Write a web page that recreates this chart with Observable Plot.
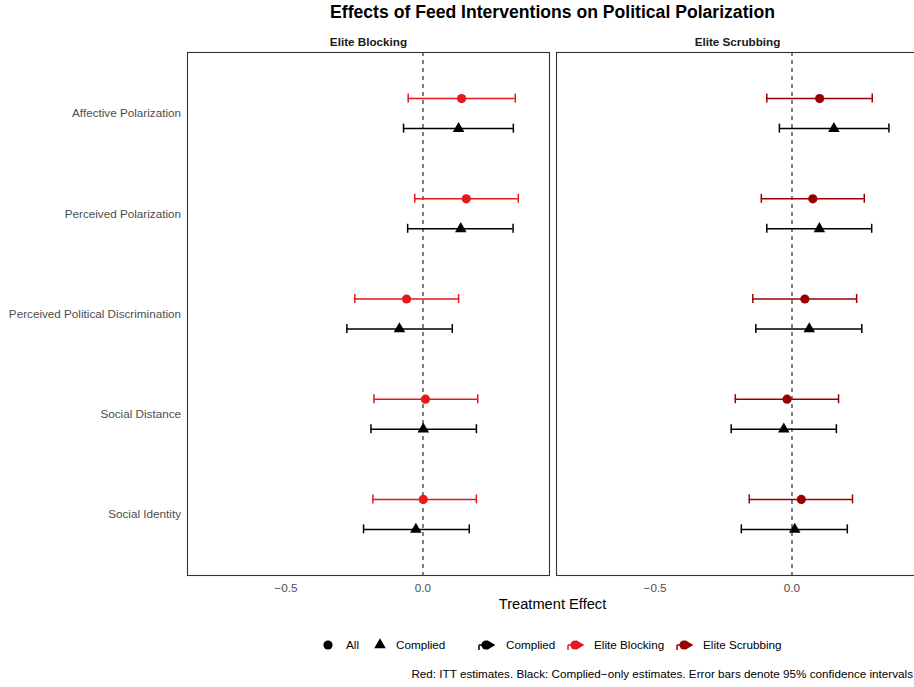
<!DOCTYPE html>
<html>
<head>
<meta charset="utf-8">
<script src="https://cdn.jsdelivr.net/npm/d3@7"></script>
<script src="https://cdn.jsdelivr.net/npm/@observablehq/plot@0.6"></script>
<style>
html, body { margin: 0; padding: 0; background: #fff; overflow: hidden; }
#wrap { position: relative; width: 914px; height: 687px; overflow: hidden; background: #fff;
  font-family: "Liberation Sans", Arial, Helvetica, sans-serif; color: #000; }
#title { position: absolute; left: 187px; width: 731px; top: 1px; text-align: center;
  font-weight: bold; font-size: 17.6px; line-height: 22px; white-space: nowrap; }
#chart { position: absolute; left: 0; top: 24px; width: 918px; }
#chart svg { max-width: none !important; }
#xlabel { position: absolute; left: 187px; width: 731px; top: 595px; text-align: center;
  font-size: 14.67px; line-height: 18px; }
#legend { position: absolute; left: 0; top: 636px; width: 914px; height: 18px; font-size: 11.7px; }
#legend .k { position: absolute; top: 0; width: 18px; height: 18px; }
#legend .t { position: absolute; top: 0; line-height: 18px; white-space: nowrap; }
#caption { position: absolute; right: 1px; top: 666px; font-size: 11.7px; line-height: 16px; white-space: nowrap; }
</style>
</head>
<body>
<div id="wrap">
  <div id="title"></div>
  <div id="chart"></div>
  <div id="xlabel"></div>
  <div id="legend"></div>
  <div id="caption"></div>
</div>
<script>
// ---------- data ----------
const titleText = "Effects of Feed Interventions on Political Polarization";
const xLabelText = "Treatment Effect";
const captionText = "Red: ITT estimates. Black: Complied\u2212only estimates. Error bars denote 95% confidence intervals";
const outcomes = ["Affective Polarization", "Perceived Polarization", "Perceived Political Discrimination", "Social Distance", "Social Identity"];
const interventions = ["Elite Blocking", "Elite Scrubbing"];
const samples = ["All", "Complied"];
const colorKeys = ["Complied", "Elite Blocking", "Elite Scrubbing"];
const colorRange = ["#000000", "#e41a1c", "#990000"];
const xTicks = [-0.5, 0.0];
const refLine = [0];

// Elite Blocking, ITT (All)
const blockAllEst = [0.141, 0.158, -0.060, 0.009, 0.001];
const blockAllLo  = [-0.054, -0.030, -0.249, -0.179, -0.183];
const blockAllHi  = [0.337, 0.348, 0.130, 0.200, 0.195];
// Elite Blocking, Complied
const blockCompEst = [0.130, 0.138, -0.086, 0.001, -0.026];
const blockCompLo  = [-0.071, -0.056, -0.278, -0.190, -0.217];
const blockCompHi  = [0.330, 0.329, 0.107, 0.195, 0.169];
// Elite Scrubbing, ITT (All)
const scrubAllEst = [0.101, 0.076, 0.047, -0.018, 0.034];
const scrubAllLo  = [-0.092, -0.112, -0.143, -0.207, -0.156];
const scrubAllHi  = [0.293, 0.264, 0.236, 0.170, 0.221];
// Elite Scrubbing, Complied
const scrubCompEst = [0.153, 0.100, 0.063, -0.030, 0.010];
const scrubCompLo  = [-0.046, -0.092, -0.132, -0.222, -0.185];
const scrubCompHi  = [0.354, 0.291, 0.255, 0.162, 0.202];

// ---------- table ----------
const series = [
  {intervention: "Elite Blocking", sample: "All", est: blockAllEst, lo: blockAllLo, hi: blockAllHi},
  {intervention: "Elite Blocking", sample: "Complied", est: blockCompEst, lo: blockCompLo, hi: blockCompHi},
  {intervention: "Elite Scrubbing", sample: "All", est: scrubAllEst, lo: scrubAllLo, hi: scrubAllHi},
  {intervention: "Elite Scrubbing", sample: "Complied", est: scrubCompEst, lo: scrubCompLo, hi: scrubCompHi}
];
const rows = [];
for (const s of series) {
  outcomes.forEach((o, i) => rows.push({
    intervention: s.intervention, sample: s.sample, outcome: o,
    est: s.est[i], lo: s.lo[i], hi: s.hi[i],
    key: s.sample === "Complied" ? "Complied" : s.intervention
  }));
}

const font = '"Liberation Sans", Arial, Helvetica, sans-serif';
const dodge = {All: -15, Complied: 15};
const marks = [Plot.ruleX(refLine, {stroke: "#000", strokeWidth: 1, strokeDasharray: "4,4"})];
for (const s of samples) {
  const d = rows.filter(r => r.sample === s);
  const common = {fx: "intervention", y: "outcome", stroke: "key", strokeWidth: 1.5, dy: dodge[s]};
  marks.push(Plot.ruleY(d, {...common, x1: "lo", x2: "hi"}));
  marks.push(Plot.tickX(d, {...common, x: "lo"}));
  marks.push(Plot.tickX(d, {...common, x: "hi"}));
  marks.push(Plot.dot(d, {fx: "intervention", y: "outcome", x: "est", fill: "key", stroke: "none",
    symbol: "sample", r: s === "All" ? 4.6 : 4.3, dy: dodge[s]}));
}
marks.push(Plot.text(interventions, {fx: d => d, text: d => d, frameAnchor: "top", lineAnchor: "middle", dy: -10.5,
  fontWeight: "bold", fontSize: 11.7, fill: "#1a1a1a"}));
marks.push(Plot.axisY({tickSize: 0, tickPadding: 6.5, fontSize: 11.7, color: "#4d4d4d", label: null}));
marks.push(Plot.axisX({ticks: xTicks, tickFormat: d3.format(".1f"), tickSize: 0, tickPadding: 8,
  fontSize: 11.7, color: "#4d4d4d", label: null}));
marks.push(Plot.frame({stroke: "#333", strokeWidth: 1.1}));

const chart = Plot.plot({
  width: 918, height: 571,
  marginLeft: 187, marginRight: 0, marginTop: 28, marginBottom: 20,
  x: {domain: [-0.86, 0.462]},
  y: {type: "band", domain: outcomes, paddingInner: 0.9102, paddingOuter: 0.565, round: false},
  fx: {domain: interventions, paddingInner: 0.019, paddingOuter: 0, round: false, axis: null},
  color: {domain: colorKeys, range: colorRange},
  symbol: {domain: samples, range: ["circle", "triangle"]},
  style: {fontFamily: font, fontSize: "11.7px", background: "white", overflow: "visible", maxWidth: "none"},
  marks
});
document.getElementById("chart").appendChild(chart);
document.getElementById("title").textContent = titleText;
document.getElementById("xlabel").textContent = xLabelText;
document.getElementById("caption").textContent = captionText;

// ---------- legend ----------
const legend = document.getElementById("legend");
const ns = "http://www.w3.org/2000/svg";
function keySvg(left, draw) {
  const svg = document.createElementNS(ns, "svg");
  svg.setAttribute("class", "k");
  svg.setAttribute("width", 18); svg.setAttribute("height", 18);
  svg.style.left = left + "px";
  draw(svg);
  legend.appendChild(svg);
}
function el(svg, tag, attrs) {
  const e = document.createElementNS(ns, tag);
  for (const k in attrs) e.setAttribute(k, attrs[k]);
  svg.appendChild(e);
}
function label(left, text) {
  const t = document.createElement("div");
  t.className = "t"; t.style.left = left + "px"; t.textContent = text;
  legend.appendChild(t);
}
const sym = d3.symbol();
const shapeLegend = [
  {sample: "All", keyLeft: 319, textLeft: 346, shape: d3.symbolCircle, size: Math.PI * 4.6 * 4.6},
  {sample: "Complied", keyLeft: 371, textLeft: 396, shape: d3.symbolTriangle, size: Math.PI * 4.3 * 4.3}
];
for (const s of shapeLegend) {
  keySvg(s.keyLeft, svg => el(svg, "path", {d: sym.type(s.shape).size(s.size)(), transform: "translate(9,9)", fill: "#000"}));
  label(s.textLeft, s.sample);
}
const colorLegendLeft = [477, 566, 675];
const colorLegendText = [506, 594, 703];
colorKeys.forEach((k, i) => {
  const c = colorRange[i];
  keySvg(colorLegendLeft[i], svg => {
    el(svg, "line", {x1: 2, x2: 16, y1: 9, y2: 9, stroke: c, "stroke-width": 1.5});
    el(svg, "line", {x1: 2, x2: 2, y1: 9, y2: 14, stroke: c, "stroke-width": 1.5});
    el(svg, "path", {d: sym.type(d3.symbolTriangle).size(40)(), transform: "translate(13,9) rotate(90)", fill: c});
    el(svg, "circle", {cx: 9, cy: 9, r: 4.6, fill: c});
  });
  label(colorLegendText[i], k);
});
</script>
</body>
</html>
